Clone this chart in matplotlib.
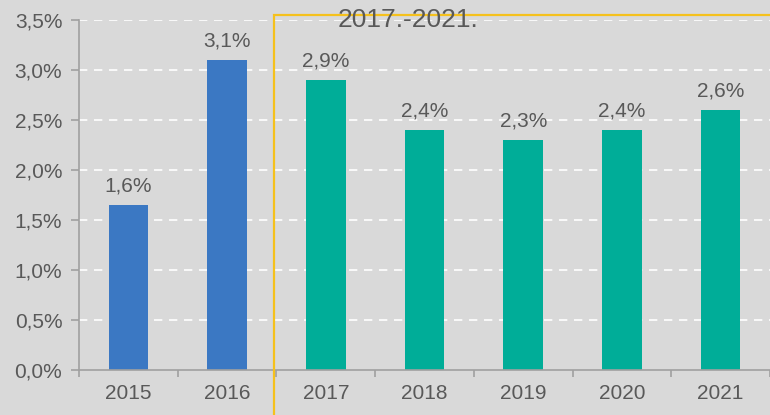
import matplotlib
matplotlib.use('Agg')
import matplotlib.pyplot as plt
from matplotlib.patches import Rectangle

years = ['2015', '2016', '2017', '2018', '2019', '2020', '2021']
values = [1.65, 3.1, 2.9, 2.4, 2.3, 2.4, 2.6]
labels = ['1,6%', '3,1%', '2,9%', '2,4%', '2,3%', '2,4%', '2,6%']
yticks = [0.0, 0.5, 1.0, 1.5, 2.0, 2.5, 3.0, 3.5]
period_label = '2017.-2021.'

blue = '#3b78c3'
teal = '#00ad98'
yellow = '#f5c11c'
text_col = '#595959'
bg = '#d9d9d9'

plt.rcParams['font.family'] = ['Liberation Sans', 'DejaVu Sans']

fig = plt.figure(figsize=(7.7, 4.15), dpi=100, facecolor=bg)
ax = fig.add_axes([0.1026, 0.1084, 0.8974, 0.8434], facecolor=bg)

x = list(range(len(years)))
colors = [blue, blue] + [teal] * 5
ax.bar(x, values, width=0.4, color=colors, zorder=3)

for xi, v, lab in zip(x, values, labels):
    ax.annotate(lab, (xi, v), xytext=(0, 7), textcoords='offset points',
                ha='center', va='bottom', fontsize=15, color=text_col, zorder=4)

ax.set_xlim(-0.5, 6.45)
ax.set_ylim(0, 3.5)
ax.set_yticks(yticks)
ax.set_yticklabels([('%.1f%%' % t).replace('.', ',') for t in yticks])
ax.set_xticks(x)
ax.set_xticklabels(years)
ax.set_xticks([i - 0.5 for i in range(len(years) + 1)], minor=True)
ax.tick_params(axis='x', which='major', length=0, pad=10, labelsize=15, colors=text_col)
ax.tick_params(axis='x', which='minor', length=5, width=1.2, color='#a0a0a0')
ax.tick_params(axis='y', length=6, width=1.2, color='#a0a0a0', labelsize=15,
               labelcolor=text_col, pad=6)

for t in yticks[1:]:
    ax.axhline(t, color='white', lw=1.2, ls=(0, (5, 4)), zorder=1)

for s in ['top', 'right']:
    ax.spines[s].set_visible(False)
for s in ['left', 'bottom']:
    ax.spines[s].set_color('#a0a0a0')
    ax.spines[s].set_linewidth(1.2)
ax.spines['bottom'].set_zorder(5)

# yellow frame around the forecast period
ax.add_patch(Rectangle((1.48, -1.0), 6.0, 4.55, fill=False, edgecolor=yellow,
                       lw=1.6, clip_on=False, zorder=6))
ax.text(2.83, 3.5, period_label, ha='center', va='center', fontsize=19,
        color=text_col, zorder=7, clip_on=False)

fig.savefig('out.png', dpi=100, facecolor=bg)
